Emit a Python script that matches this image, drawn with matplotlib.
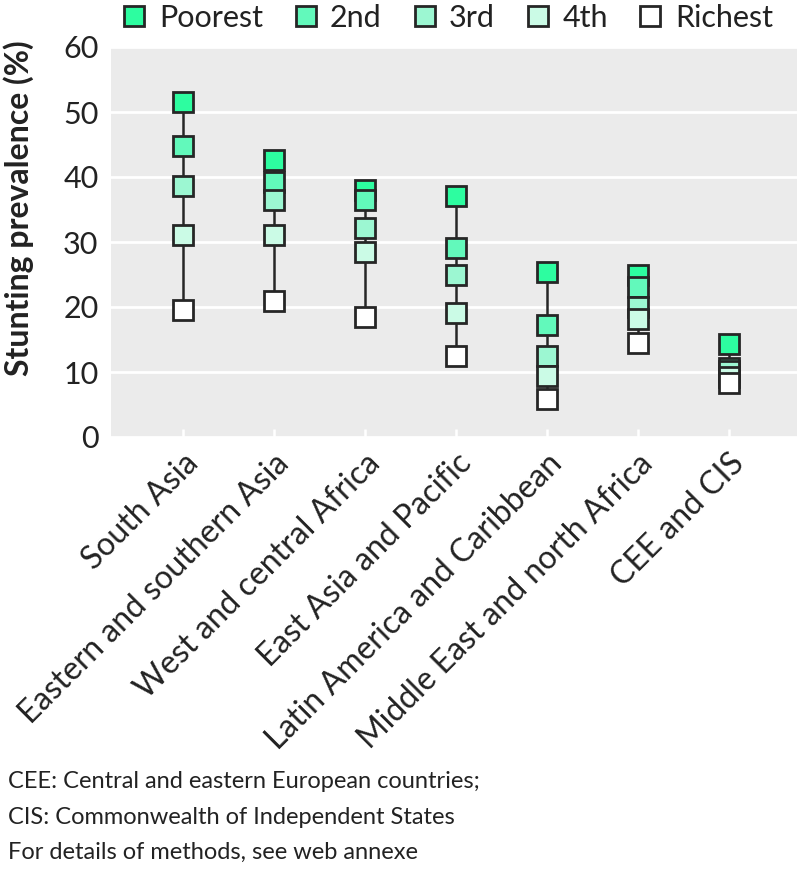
import matplotlib.pyplot as plt
from matplotlib.lines import Line2D

plt.rcParams['font.family'] = ['Lato', 'DejaVu Sans']

regions = ['South Asia', 'Eastern and southern Asia', 'West and central Africa',
           'East Asia and Pacific', 'Latin America and Caribbean',
           'Middle East and north Africa', 'CEE and CIS']
quintiles = ['Poorest', '2nd', '3rd', '4th', 'Richest']
poorest = [51.5, 42.6, 38.0, 37.1, 25.4, 24.9, 14.3]
second = [44.8, 39.2, 36.5, 29.1, 17.2, 23.1, 10.6]
third = [38.6, 36.5, 32.2, 24.9, 12.5, 20.0, 10.2]
fourth = [31.1, 31.1, 28.5, 19.1, 9.4, 18.2, 9.2]
richest = [19.5, 20.9, 18.5, 12.5, 5.8, 14.5, 8.3]
footnote = ['CEE: Central and eastern European countries;',
            'CIS: Commonwealth of Independent States',
            'For details of methods, see web annexe']

COLOURS = ['#2dfda0', '#62f9bb', '#9cf7d2', '#cbfbe6', '#ffffff']
EDGE = '#262626'
TEXT = '#222222'

fig = plt.figure(figsize=(8.02, 8.69), dpi=100)
ax = fig.add_axes([111 / 802, 1 - 437 / 869, 686 / 802, 390 / 869])
ax.set_facecolor('#ebebeb')

x = list(range(len(regions)))
ax.vlines(x, richest, poorest, color=EDGE, linewidth=1.8, zorder=2)
for series, colour in zip([poorest, second, third, fourth, richest], COLOURS):
    ax.plot(x, series, linestyle='none', marker='s', markersize=14,
            markerfacecolor=colour, markeredgecolor=EDGE, markeredgewidth=2, zorder=3)

ax.set_xlim(-0.79, 6.75)
ax.set_ylim(0, 60)
ax.set_yticks(range(0, 61, 10))
ax.set_xticks(x)
ax.set_xticklabels(regions, rotation=45, ha='right', rotation_mode='anchor')
ax.tick_params(axis='x', direction='in', color='white', width=1.8, length=6,
               labelsize=23, pad=8, labelcolor=TEXT)
ax.tick_params(axis='y', length=0, labelsize=22, pad=9, labelcolor=TEXT)
ax.grid(axis='y', color='white', linewidth=2)
ax.set_axisbelow(True)
for spine in ax.spines.values():
    spine.set_visible(False)

fig.text(19 / 802, 1 - 208 / 869, 'Stunting prevalence (%)', rotation=90,
         ha='center', va='center', fontsize=23, fontweight='bold', color=TEXT)

handles = [Line2D([], [], linestyle='none', marker='s', markersize=14,
                  markerfacecolor=c, markeredgecolor=EDGE, markeredgewidth=2)
           for c in COLOURS]
fig.legend(handles, quintiles, loc='center', bbox_to_anchor=(446 / 802, 1 - 18 / 869),
           ncol=5, frameon=False, fontsize=22, handletextpad=0.3, columnspacing=0.9,
           handlelength=1.0, labelcolor=TEXT)

for i, line in enumerate(footnote):
    fig.text(8 / 802, 1 - (782 + 35 * i) / 869, line, ha='left', va='center',
             fontsize=17, color=TEXT)

fig.savefig('out.png', dpi=100)
